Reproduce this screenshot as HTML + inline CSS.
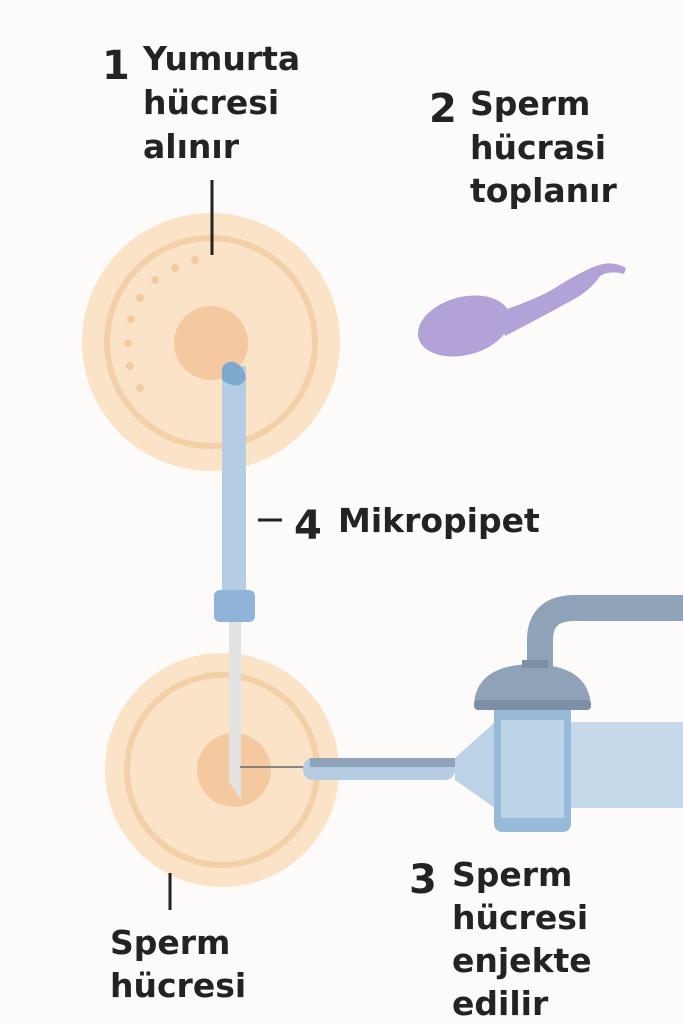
<!DOCTYPE html>
<html><head><meta charset="utf-8"><style>
html,body{margin:0;padding:0;background:#fcfbf9;}
svg{display:block}
text{font-family:"DejaVu Sans","Liberation Sans",sans-serif;font-weight:bold;fill:#232323;}
</style></head><body>
<svg width="683" height="1024" viewBox="0 0 683 1024">
<rect width="683" height="1024" fill="#fcfbf9"/>
<!-- top egg -->
<circle cx="211" cy="342" r="129" fill="#fbe3c8"/>
<circle cx="211" cy="342" r="104" fill="none" stroke="#f2d0a8" stroke-width="6"/>
<circle cx="211" cy="343" r="37" fill="#f4c99f"/>
<g fill="#f2cba3">
<circle cx="195" cy="260" r="4"/><circle cx="175" cy="268" r="4"/><circle cx="155" cy="280" r="4"/>
<circle cx="140" cy="298" r="4"/><circle cx="131" cy="319" r="4"/><circle cx="128" cy="343" r="4"/>
<circle cx="130" cy="366" r="4"/><circle cx="140" cy="388" r="4"/>
</g>
<line x1="212" y1="180" x2="212" y2="255" stroke="#222" stroke-width="3"/>
<!-- bottom egg -->
<circle cx="222" cy="770" r="117" fill="#fbe3c8"/>
<circle cx="222" cy="770" r="95" fill="none" stroke="#f2d0a8" stroke-width="6"/>
<circle cx="234" cy="770" r="37" fill="#f4c99f"/>
<!-- pipette -->
<rect x="222" y="366" width="24" height="230" fill="#b4cde3"/>
<path d="M222,368 Q226,360 234,362 Q244,366 246,378 Q240,392 222,380 Z" fill="#7fa8cf"/>
<rect x="214" y="590" width="41" height="32" rx="6" fill="#8fb4d8"/>
<path d="M229,622 L241,622 L241,760 L241,800 L229,782 Z" fill="#e2e2e0"/>
<line x1="240" y1="767" x2="305" y2="767" stroke="#666" stroke-width="1.5"/>
<line x1="258" y1="520" x2="282" y2="520" stroke="#222" stroke-width="3"/>
<!-- injection needle -->
<rect x="303" y="758" width="152" height="22" rx="10" fill="#b4cde3"/>
<rect x="310" y="758" width="145" height="9" fill="#8fa4b8"/>
<path d="M455,758 L495,722 L495,808 L455,780 Z" fill="#bcd2e6"/>
<rect x="495" y="722" width="188" height="86" fill="#c5d9ea"/>
<rect x="494" y="700" width="77" height="132" rx="8" fill="#98bad9"/>
<rect x="501" y="720" width="63" height="98" fill="#bcd3e8"/>
<path d="M540,668 L540,640 Q540,608 575,608 L683,608" fill="none" stroke="#8fa3b8" stroke-width="26"/>
<path d="M474,705 Q476,665 532,664 Q588,665 591,705 Z" fill="#8fa3b8"/>
<rect x="474" y="700" width="117" height="10" rx="4" fill="#7c8fa4"/>
<rect x="522" y="660" width="26" height="8" fill="#7c8fa4"/>
<line x1="170" y1="873" x2="170" y2="910" stroke="#222" stroke-width="3"/>
<!-- sperm -->
<ellipse cx="464" cy="326" rx="47" ry="29" transform="rotate(-15 464 326)" fill="#b3a2d7"/>
<path d="M498,312 Q535,300 555,288 Q580,272 596,266 Q612,260 626,268 L624,274 Q610,270 600,276 Q590,292 565,304 Q540,318 505,336 Z" fill="#b3a2d7"/>
<!-- labels -->
<text x="102" y="79" font-size="40">1</text>
<text x="143" y="70" font-size="33">Yumurta</text>
<text x="143" y="114" font-size="33">hücresi</text>
<text x="143" y="158" font-size="33">alınır</text>
<text x="429" y="122" font-size="40">2</text>
<text x="470" y="115" font-size="33">Sperm</text>
<text x="470" y="159" font-size="33">hücrasi</text>
<text x="470" y="202" font-size="33">toplanır</text>
<text x="294" y="539" font-size="40">4</text>
<text x="338" y="532" font-size="33">Mikropipet</text>
<text x="409" y="893" font-size="40">3</text>
<text x="452" y="886" font-size="33">Sperm</text>
<text x="452" y="929" font-size="33">hücresi</text>
<text x="452" y="972" font-size="33">enjekte</text>
<text x="452" y="1015" font-size="33">edilir</text>
<text x="110" y="954" font-size="33">Sperm</text>
<text x="110" y="997" font-size="33">hücresi</text>
</svg>
</body></html>
